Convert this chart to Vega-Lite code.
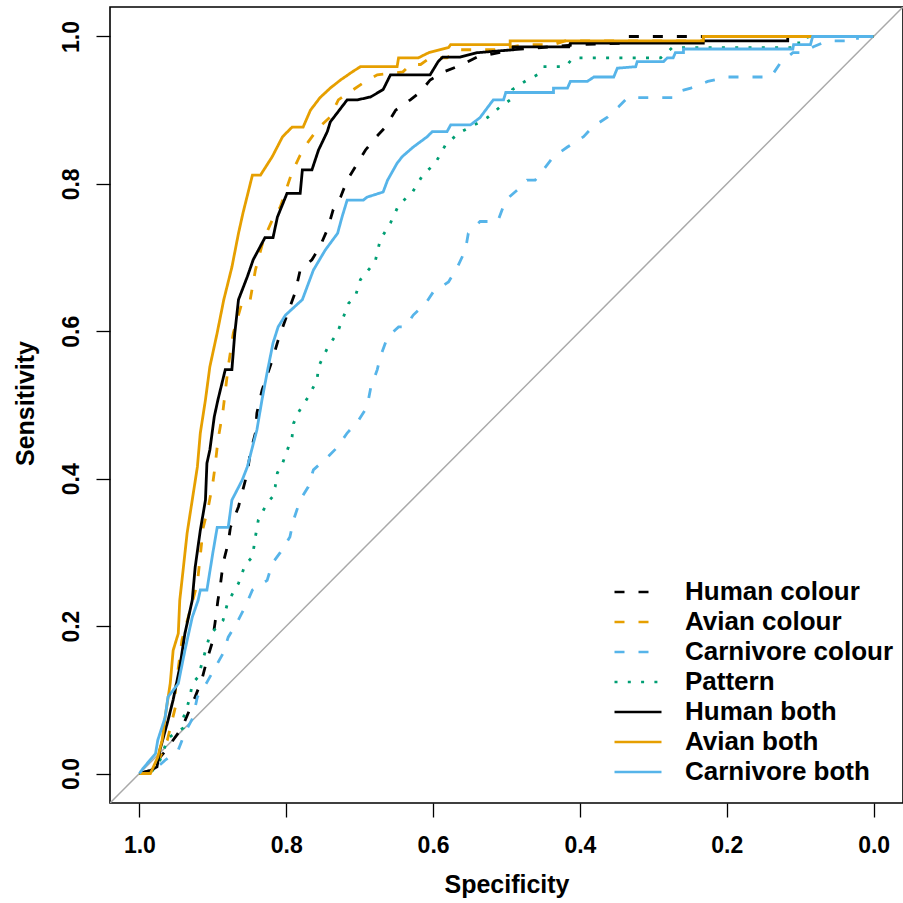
{
  "$schema": "https://vega.github.io/schema/vega-lite/v6.json",
  "width": 793,
  "height": 796,
  "autosize": {"type": "none"},
  "padding": {"left": 110, "top": 7, "right": 0, "bottom": 100},
  "background": "white",
  "config": {
    "view": {"stroke": "#000000", "strokeWidth": 1.6},
    "font": "Liberation Sans",
    "axis": {"grid": false, "domain": false, "tickColor": "black", "tickSize": 14, "tickWidth": 1.3,
             "labelFont": "Liberation Sans", "labelFontSize": 23, "labelFontWeight": "bold", "labelColor": "black",
             "titleFont": "Liberation Sans", "titleFontSize": 25, "titleFontWeight": "bold", "titleColor": "black"}
  },
  "datasets": {
    "diag": [{"spec": 1.04, "sens": -0.04}, {"spec": -0.04, "sens": 1.04}],
    "roc": [
      {"series":"Human colour","spec":1,"sens":0},{"series":"Human colour","spec":0.985,"sens":0.004},{"series":"Human colour","spec":0.972,"sens":0.022},{"series":"Human colour","spec":0.965,"sens":0.03},{"series":"Human colour","spec":0.942,"sens":0.062},{"series":"Human colour","spec":0.924,"sens":0.104},{"series":"Human colour","spec":0.915,"sens":0.127},{"series":"Human colour","spec":0.908,"sens":0.154},{"series":"Human colour","spec":0.901,"sens":0.177},{"series":"Human colour","spec":0.897,"sens":0.204},{"series":"Human colour","spec":0.893,"sens":0.235},{"series":"Human colour","spec":0.89,"sens":0.253},{"series":"Human colour","spec":0.886,"sens":0.285},{"series":"Human colour","spec":0.879,"sens":0.313},{"series":"Human colour","spec":0.876,"sens":0.334},{"series":"Human colour","spec":0.865,"sens":0.362},{"series":"Human colour","spec":0.859,"sens":0.385},{"series":"Human colour","spec":0.853,"sens":0.408},{"series":"Human colour","spec":0.849,"sens":0.435},{"series":"Human colour","spec":0.842,"sens":0.462},{"series":"Human colour","spec":0.84,"sens":0.489},{"series":"Human colour","spec":0.833,"sens":0.52},{"series":"Human colour","spec":0.819,"sens":0.561},{"series":"Human colour","spec":0.811,"sens":0.588},{"series":"Human colour","spec":0.795,"sens":0.633},{"series":"Human colour","spec":0.788,"sens":0.652},{"series":"Human colour","spec":0.781,"sens":0.683},{"series":"Human colour","spec":0.765,"sens":0.697},{"series":"Human colour","spec":0.754,"sens":0.715},{"series":"Human colour","spec":0.744,"sens":0.738},{"series":"Human colour","spec":0.736,"sens":0.765},{"series":"Human colour","spec":0.726,"sens":0.782},{"series":"Human colour","spec":0.717,"sens":0.805},{"series":"Human colour","spec":0.706,"sens":0.823},{"series":"Human colour","spec":0.692,"sens":0.846},{"series":"Human colour","spec":0.679,"sens":0.862},{"series":"Human colour","spec":0.665,"sens":0.877},{"series":"Human colour","spec":0.651,"sens":0.9},{"series":"Human colour","spec":0.631,"sens":0.914},{"series":"Human colour","spec":0.617,"sens":0.925},{"series":"Human colour","spec":0.604,"sens":0.941},{"series":"Human colour","spec":0.583,"sens":0.953},{"series":"Human colour","spec":0.56,"sens":0.962},{"series":"Human colour","spec":0.54,"sens":0.972},{"series":"Human colour","spec":0.491,"sens":0.982},{"series":"Human colour","spec":0.403,"sens":0.989},{"series":"Human colour","spec":0.341,"sens":0.991},{"series":"Human colour","spec":0.338,"sens":1},{"series":"Human colour","spec":0,"sens":1},

      {"series":"Avian colour","spec":1,"sens":0},{"series":"Avian colour","spec":0.985,"sens":0},{"series":"Avian colour","spec":0.972,"sens":0.022},{"series":"Avian colour","spec":0.962,"sens":0.045},{"series":"Avian colour","spec":0.951,"sens":0.09},{"series":"Avian colour","spec":0.951,"sens":0.113},{"series":"Avian colour","spec":0.942,"sens":0.181},{"series":"Avian colour","spec":0.921,"sens":0.258},{"series":"Avian colour","spec":0.913,"sens":0.334},{"series":"Avian colour","spec":0.906,"sens":0.362},{"series":"Avian colour","spec":0.9,"sens":0.394},{"series":"Avian colour","spec":0.897,"sens":0.416},{"series":"Avian colour","spec":0.893,"sens":0.452},{"series":"Avian colour","spec":0.886,"sens":0.493},{"series":"Avian colour","spec":0.879,"sens":0.552},{"series":"Avian colour","spec":0.872,"sens":0.598},{"series":"Avian colour","spec":0.859,"sens":0.643},{"series":"Avian colour","spec":0.849,"sens":0.643},{"series":"Avian colour","spec":0.842,"sens":0.683},{"series":"Avian colour","spec":0.831,"sens":0.724},{"series":"Avian colour","spec":0.819,"sens":0.751},{"series":"Avian colour","spec":0.808,"sens":0.769},{"series":"Avian colour","spec":0.792,"sens":0.816},{"series":"Avian colour","spec":0.781,"sens":0.839},{"series":"Avian colour","spec":0.77,"sens":0.857},{"series":"Avian colour","spec":0.756,"sens":0.876},{"series":"Avian colour","spec":0.74,"sens":0.891},{"series":"Avian colour","spec":0.729,"sens":0.914},{"series":"Avian colour","spec":0.713,"sens":0.925},{"series":"Avian colour","spec":0.692,"sens":0.939},{"series":"Avian colour","spec":0.676,"sens":0.948},{"series":"Avian colour","spec":0.641,"sens":0.952},{"series":"Avian colour","spec":0.631,"sens":0.962},{"series":"Avian colour","spec":0.617,"sens":0.962},{"series":"Avian colour","spec":0.604,"sens":0.971},{"series":"Avian colour","spec":0.581,"sens":0.971},{"series":"Avian colour","spec":0.567,"sens":0.982},{"series":"Avian colour","spec":0.512,"sens":0.982},{"series":"Avian colour","spec":0.477,"sens":0.989},{"series":"Avian colour","spec":0.436,"sens":0.989},{"series":"Avian colour","spec":0.42,"sens":0.994},{"series":"Avian colour","spec":0.232,"sens":0.994},{"series":"Avian colour","spec":0.232,"sens":1},{"series":"Avian colour","spec":0,"sens":1},

      {"series":"Carnivore colour","spec":1,"sens":0},{"series":"Carnivore colour","spec":0.985,"sens":0},{"series":"Carnivore colour","spec":0.965,"sens":0.018},{"series":"Carnivore colour","spec":0.947,"sens":0.032},{"series":"Carnivore colour","spec":0.938,"sens":0.055},{"series":"Carnivore colour","spec":0.927,"sens":0.076},{"series":"Carnivore colour","spec":0.921,"sens":0.104},{"series":"Carnivore colour","spec":0.909,"sens":0.122},{"series":"Carnivore colour","spec":0.886,"sens":0.163},{"series":"Carnivore colour","spec":0.879,"sens":0.185},{"series":"Carnivore colour","spec":0.867,"sens":0.205},{"series":"Carnivore colour","spec":0.856,"sens":0.226},{"series":"Carnivore colour","spec":0.846,"sens":0.249},{"series":"Carnivore colour","spec":0.826,"sens":0.262},{"series":"Carnivore colour","spec":0.819,"sens":0.285},{"series":"Carnivore colour","spec":0.808,"sens":0.3},{"series":"Carnivore colour","spec":0.795,"sens":0.321},{"series":"Carnivore colour","spec":0.79,"sens":0.344},{"series":"Carnivore colour","spec":0.781,"sens":0.371},{"series":"Carnivore colour","spec":0.77,"sens":0.389},{"series":"Carnivore colour","spec":0.763,"sens":0.412},{"series":"Carnivore colour","spec":0.744,"sens":0.429},{"series":"Carnivore colour","spec":0.73,"sens":0.443},{"series":"Carnivore colour","spec":0.717,"sens":0.462},{"series":"Carnivore colour","spec":0.703,"sens":0.477},{"series":"Carnivore colour","spec":0.69,"sens":0.497},{"series":"Carnivore colour","spec":0.685,"sens":0.523},{"series":"Carnivore colour","spec":0.676,"sens":0.548},{"series":"Carnivore colour","spec":0.672,"sens":0.565},{"series":"Carnivore colour","spec":0.662,"sens":0.592},{"series":"Carnivore colour","spec":0.647,"sens":0.606},{"series":"Carnivore colour","spec":0.638,"sens":0.606},{"series":"Carnivore colour","spec":0.627,"sens":0.622},{"series":"Carnivore colour","spec":0.61,"sens":0.638},{"series":"Carnivore colour","spec":0.6,"sens":0.653},{"series":"Carnivore colour","spec":0.579,"sens":0.667},{"series":"Carnivore colour","spec":0.567,"sens":0.687},{"series":"Carnivore colour","spec":0.556,"sens":0.71},{"series":"Carnivore colour","spec":0.552,"sens":0.733},{"series":"Carnivore colour","spec":0.536,"sens":0.749},{"series":"Carnivore colour","spec":0.512,"sens":0.749},{"series":"Carnivore colour","spec":0.501,"sens":0.778},{"series":"Carnivore colour","spec":0.485,"sens":0.792},{"series":"Carnivore colour","spec":0.472,"sens":0.805},{"series":"Carnivore colour","spec":0.461,"sens":0.805},{"series":"Carnivore colour","spec":0.45,"sens":0.819},{"series":"Carnivore colour","spec":0.436,"sens":0.837},{"series":"Carnivore colour","spec":0.417,"sens":0.85},{"series":"Carnivore colour","spec":0.395,"sens":0.864},{"series":"Carnivore colour","spec":0.383,"sens":0.877},{"series":"Carnivore colour","spec":0.362,"sens":0.891},{"series":"Carnivore colour","spec":0.347,"sens":0.905},{"series":"Carnivore colour","spec":0.335,"sens":0.917},{"series":"Carnivore colour","spec":0.273,"sens":0.917},{"series":"Carnivore colour","spec":0.27,"sens":0.924},{"series":"Carnivore colour","spec":0.249,"sens":0.93},{"series":"Carnivore colour","spec":0.226,"sens":0.939},{"series":"Carnivore colour","spec":0.199,"sens":0.945},{"series":"Carnivore colour","spec":0.14,"sens":0.945},{"series":"Carnivore colour","spec":0.127,"sens":0.964},{"series":"Carnivore colour","spec":0.11,"sens":0.978},{"series":"Carnivore colour","spec":0.097,"sens":0.978},{"series":"Carnivore colour","spec":0.082,"sens":0.986},{"series":"Carnivore colour","spec":0.063,"sens":0.994},{"series":"Carnivore colour","spec":0.022,"sens":0.994},{"series":"Carnivore colour","spec":0.022,"sens":1},{"series":"Carnivore colour","spec":0,"sens":1},

      {"series":"Pattern","spec":1,"sens":0},{"series":"Pattern","spec":0.985,"sens":0},{"series":"Pattern","spec":0.972,"sens":0.018},{"series":"Pattern","spec":0.961,"sens":0.048},{"series":"Pattern","spec":0.94,"sens":0.062},{"series":"Pattern","spec":0.94,"sens":0.076},{"series":"Pattern","spec":0.935,"sens":0.09},{"series":"Pattern","spec":0.931,"sens":0.104},{"series":"Pattern","spec":0.928,"sens":0.122},{"series":"Pattern","spec":0.92,"sens":0.131},{"series":"Pattern","spec":0.904,"sens":0.188},{"series":"Pattern","spec":0.886,"sens":0.208},{"series":"Pattern","spec":0.88,"sens":0.231},{"series":"Pattern","spec":0.872,"sens":0.246},{"series":"Pattern","spec":0.865,"sens":0.258},{"series":"Pattern","spec":0.856,"sens":0.283},{"series":"Pattern","spec":0.846,"sens":0.294},{"series":"Pattern","spec":0.842,"sens":0.321},{"series":"Pattern","spec":0.838,"sens":0.344},{"series":"Pattern","spec":0.826,"sens":0.367},{"series":"Pattern","spec":0.819,"sens":0.375},{"series":"Pattern","spec":0.815,"sens":0.389},{"series":"Pattern","spec":0.812,"sens":0.408},{"series":"Pattern","spec":0.805,"sens":0.421},{"series":"Pattern","spec":0.797,"sens":0.443},{"series":"Pattern","spec":0.792,"sens":0.457},{"series":"Pattern","spec":0.79,"sens":0.475},{"series":"Pattern","spec":0.784,"sens":0.489},{"series":"Pattern","spec":0.77,"sens":0.511},{"series":"Pattern","spec":0.758,"sens":0.534},{"series":"Pattern","spec":0.756,"sens":0.552},{"series":"Pattern","spec":0.744,"sens":0.577},{"series":"Pattern","spec":0.73,"sens":0.599},{"series":"Pattern","spec":0.715,"sens":0.638},{"series":"Pattern","spec":0.706,"sens":0.647},{"series":"Pattern","spec":0.699,"sens":0.67},{"series":"Pattern","spec":0.679,"sens":0.694},{"series":"Pattern","spec":0.672,"sens":0.724},{"series":"Pattern","spec":0.658,"sens":0.747},{"series":"Pattern","spec":0.647,"sens":0.771},{"series":"Pattern","spec":0.628,"sens":0.789},{"series":"Pattern","spec":0.614,"sens":0.812},{"series":"Pattern","spec":0.597,"sens":0.828},{"series":"Pattern","spec":0.583,"sens":0.853},{"series":"Pattern","spec":0.565,"sens":0.869},{"series":"Pattern","spec":0.538,"sens":0.883},{"series":"Pattern","spec":0.526,"sens":0.89},{"series":"Pattern","spec":0.508,"sens":0.905},{"series":"Pattern","spec":0.495,"sens":0.914},{"series":"Pattern","spec":0.492,"sens":0.928},{"series":"Pattern","spec":0.472,"sens":0.941},{"series":"Pattern","spec":0.458,"sens":0.948},{"series":"Pattern","spec":0.45,"sens":0.959},{"series":"Pattern","spec":0.42,"sens":0.959},{"series":"Pattern","spec":0.409,"sens":0.971},{"series":"Pattern","spec":0.29,"sens":0.971},{"series":"Pattern","spec":0.274,"sens":0.985},{"series":"Pattern","spec":0.102,"sens":0.985},{"series":"Pattern","spec":0.102,"sens":0.996},{"series":"Pattern","spec":0.086,"sens":1},{"series":"Pattern","spec":0,"sens":1},

      {"series":"Human both","spec":1,"sens":0},{"series":"Human both","spec":0.985,"sens":0.004},{"series":"Human both","spec":0.976,"sens":0.009},{"series":"Human both","spec":0.972,"sens":0.032},{"series":"Human both","spec":0.961,"sens":0.072},{"series":"Human both","spec":0.954,"sens":0.1},{"series":"Human both","spec":0.945,"sens":0.144},{"series":"Human both","spec":0.938,"sens":0.19},{"series":"Human both","spec":0.928,"sens":0.235},{"series":"Human both","spec":0.924,"sens":0.28},{"series":"Human both","spec":0.917,"sens":0.33},{"series":"Human both","spec":0.91,"sens":0.371},{"series":"Human both","spec":0.908,"sens":0.421},{"series":"Human both","spec":0.904,"sens":0.439},{"series":"Human both","spec":0.898,"sens":0.484},{"series":"Human both","spec":0.893,"sens":0.507},{"series":"Human both","spec":0.883,"sens":0.548},{"series":"Human both","spec":0.874,"sens":0.548},{"series":"Human both","spec":0.87,"sens":0.598},{"series":"Human both","spec":0.865,"sens":0.643},{"series":"Human both","spec":0.853,"sens":0.674},{"series":"Human both","spec":0.845,"sens":0.697},{"series":"Human both","spec":0.829,"sens":0.727},{"series":"Human both","spec":0.818,"sens":0.727},{"series":"Human both","spec":0.812,"sens":0.755},{"series":"Human both","spec":0.799,"sens":0.787},{"series":"Human both","spec":0.781,"sens":0.787},{"series":"Human both","spec":0.778,"sens":0.819},{"series":"Human both","spec":0.765,"sens":0.819},{"series":"Human both","spec":0.756,"sens":0.846},{"series":"Human both","spec":0.744,"sens":0.871},{"series":"Human both","spec":0.74,"sens":0.884},{"series":"Human both","spec":0.717,"sens":0.914},{"series":"Human both","spec":0.703,"sens":0.914},{"series":"Human both","spec":0.685,"sens":0.918},{"series":"Human both","spec":0.668,"sens":0.928},{"series":"Human both","spec":0.658,"sens":0.948},{"series":"Human both","spec":0.604,"sens":0.948},{"series":"Human both","spec":0.593,"sens":0.966},{"series":"Human both","spec":0.587,"sens":0.972},{"series":"Human both","spec":0.563,"sens":0.972},{"series":"Human both","spec":0.54,"sens":0.978},{"series":"Human both","spec":0.491,"sens":0.982},{"series":"Human both","spec":0.491,"sens":0.986},{"series":"Human both","spec":0.415,"sens":0.986},{"series":"Human both","spec":0.413,"sens":0.991},{"series":"Human both","spec":0.232,"sens":0.991},{"series":"Human both","spec":0.232,"sens":0.994},{"series":"Human both","spec":0.117,"sens":0.994},{"series":"Human both","spec":0.117,"sens":1},{"series":"Human both","spec":0,"sens":1},

      {"series":"Avian both","spec":1,"sens":0},{"series":"Avian both","spec":0.985,"sens":0},{"series":"Avian both","spec":0.975,"sens":0.022},{"series":"Avian both","spec":0.969,"sens":0.045},{"series":"Avian both","spec":0.965,"sens":0.076},{"series":"Avian both","spec":0.958,"sens":0.122},{"series":"Avian both","spec":0.954,"sens":0.167},{"series":"Avian both","spec":0.947,"sens":0.19},{"series":"Avian both","spec":0.945,"sens":0.235},{"series":"Avian both","spec":0.94,"sens":0.28},{"series":"Avian both","spec":0.935,"sens":0.326},{"series":"Avian both","spec":0.928,"sens":0.371},{"series":"Avian both","spec":0.921,"sens":0.416},{"series":"Avian both","spec":0.917,"sens":0.462},{"series":"Avian both","spec":0.91,"sens":0.507},{"series":"Avian both","spec":0.904,"sens":0.552},{"series":"Avian both","spec":0.894,"sens":0.598},{"series":"Avian both","spec":0.885,"sens":0.643},{"series":"Avian both","spec":0.874,"sens":0.687},{"series":"Avian both","spec":0.865,"sens":0.733},{"series":"Avian both","spec":0.859,"sens":0.76},{"series":"Avian both","spec":0.846,"sens":0.812},{"series":"Avian both","spec":0.835,"sens":0.812},{"series":"Avian both","spec":0.819,"sens":0.837},{"series":"Avian both","spec":0.805,"sens":0.864},{"series":"Avian both","spec":0.792,"sens":0.877},{"series":"Avian both","spec":0.777,"sens":0.877},{"series":"Avian both","spec":0.767,"sens":0.9},{"series":"Avian both","spec":0.754,"sens":0.917},{"series":"Avian both","spec":0.74,"sens":0.93},{"series":"Avian both","spec":0.726,"sens":0.941},{"series":"Avian both","spec":0.71,"sens":0.952},{"series":"Avian both","spec":0.699,"sens":0.959},{"series":"Avian both","spec":0.649,"sens":0.959},{"series":"Avian both","spec":0.647,"sens":0.971},{"series":"Avian both","spec":0.62,"sens":0.971},{"series":"Avian both","spec":0.606,"sens":0.978},{"series":"Avian both","spec":0.579,"sens":0.985},{"series":"Avian both","spec":0.576,"sens":0.989},{"series":"Avian both","spec":0.495,"sens":0.989},{"series":"Avian both","spec":0.495,"sens":0.994},{"series":"Avian both","spec":0.232,"sens":0.994},{"series":"Avian both","spec":0.232,"sens":1},{"series":"Avian both","spec":0,"sens":1},

      {"series":"Carnivore both","spec":1,"sens":0},{"series":"Carnivore both","spec":0.995,"sens":0.007},{"series":"Carnivore both","spec":0.978,"sens":0.027},{"series":"Carnivore both","spec":0.975,"sens":0.045},{"series":"Carnivore both","spec":0.965,"sens":0.076},{"series":"Carnivore both","spec":0.961,"sens":0.104},{"series":"Carnivore both","spec":0.947,"sens":0.122},{"series":"Carnivore both","spec":0.938,"sens":0.167},{"series":"Carnivore both","spec":0.928,"sens":0.212},{"series":"Carnivore both","spec":0.92,"sens":0.235},{"series":"Carnivore both","spec":0.917,"sens":0.249},{"series":"Carnivore both","spec":0.908,"sens":0.249},{"series":"Carnivore both","spec":0.9,"sens":0.299},{"series":"Carnivore both","spec":0.894,"sens":0.334},{"series":"Carnivore both","spec":0.879,"sens":0.334},{"series":"Carnivore both","spec":0.874,"sens":0.371},{"series":"Carnivore both","spec":0.86,"sens":0.398},{"series":"Carnivore both","spec":0.853,"sens":0.416},{"series":"Carnivore both","spec":0.846,"sens":0.443},{"series":"Carnivore both","spec":0.84,"sens":0.466},{"series":"Carnivore both","spec":0.833,"sens":0.507},{"series":"Carnivore both","spec":0.826,"sens":0.544},{"series":"Carnivore both","spec":0.818,"sens":0.584},{"series":"Carnivore both","spec":0.811,"sens":0.606},{"series":"Carnivore both","spec":0.801,"sens":0.622},{"series":"Carnivore both","spec":0.778,"sens":0.643},{"series":"Carnivore both","spec":0.763,"sens":0.683},{"series":"Carnivore both","spec":0.747,"sens":0.71},{"series":"Carnivore both","spec":0.73,"sens":0.733},{"series":"Carnivore both","spec":0.724,"sens":0.755},{"series":"Carnivore both","spec":0.717,"sens":0.778},{"series":"Carnivore both","spec":0.695,"sens":0.778},{"series":"Carnivore both","spec":0.69,"sens":0.782},{"series":"Carnivore both","spec":0.668,"sens":0.789},{"series":"Carnivore both","spec":0.662,"sens":0.805},{"series":"Carnivore both","spec":0.649,"sens":0.828},{"series":"Carnivore both","spec":0.642,"sens":0.837},{"series":"Carnivore both","spec":0.627,"sens":0.85},{"series":"Carnivore both","spec":0.608,"sens":0.864},{"series":"Carnivore both","spec":0.601,"sens":0.871},{"series":"Carnivore both","spec":0.581,"sens":0.871},{"series":"Carnivore both","spec":0.576,"sens":0.88},{"series":"Carnivore both","spec":0.549,"sens":0.88},{"series":"Carnivore both","spec":0.536,"sens":0.89},{"series":"Carnivore both","spec":0.518,"sens":0.914},{"series":"Carnivore both","spec":0.504,"sens":0.914},{"series":"Carnivore both","spec":0.501,"sens":0.924},{"series":"Carnivore both","spec":0.436,"sens":0.924},{"series":"Carnivore both","spec":0.436,"sens":0.93},{"series":"Carnivore both","spec":0.417,"sens":0.93},{"series":"Carnivore both","spec":0.413,"sens":0.939},{"series":"Carnivore both","spec":0.39,"sens":0.939},{"series":"Carnivore both","spec":0.381,"sens":0.945},{"series":"Carnivore both","spec":0.354,"sens":0.945},{"series":"Carnivore both","spec":0.349,"sens":0.957},{"series":"Carnivore both","spec":0.324,"sens":0.959},{"series":"Carnivore both","spec":0.322,"sens":0.966},{"series":"Carnivore both","spec":0.286,"sens":0.966},{"series":"Carnivore both","spec":0.281,"sens":0.971},{"series":"Carnivore both","spec":0.273,"sens":0.971},{"series":"Carnivore both","spec":0.27,"sens":0.978},{"series":"Carnivore both","spec":0.259,"sens":0.978},{"series":"Carnivore both","spec":0.259,"sens":0.983},{"series":"Carnivore both","spec":0.11,"sens":0.983},{"series":"Carnivore both","spec":0.109,"sens":0.989},{"series":"Carnivore both","spec":0.086,"sens":0.989},{"series":"Carnivore both","spec":0.083,"sens":1},{"series":"Carnivore both","spec":0,"sens":1}
    ]
  },
  "layer": [
    {
      "data": {"name": "diag"},
      "mark": {"type": "line", "color": "#A9A9A9", "strokeWidth": 1.5, "clip": true},
      "encoding": {
        "x": {"field": "spec", "type": "quantitative", "scale": {"domain": [-0.04, 1.04], "reverse": true, "nice": false, "zero": false}},
        "y": {"field": "sens", "type": "quantitative", "scale": {"domain": [-0.04, 1.04], "nice": false, "zero": false}},
        "order": {"value": null}
      }
    },
    {
      "data": {"name": "roc"},
      "mark": {"type": "line", "strokeWidth": 2.8, "clip": true, "strokeCap": "butt"},
      "encoding": {
        "x": {"field": "spec", "type": "quantitative", "title": "Specificity",
              "axis": {"values": [0, 0.2, 0.4, 0.6, 0.8, 1], "format": ".1f", "labelPadding": 17, "titleBaseline": "alphabetic", "titleY": 89}},
        "y": {"field": "sens", "type": "quantitative", "title": "Sensitivity",
              "axis": {"values": [0, 0.2, 0.4, 0.6, 0.8, 1], "format": ".1f", "labelAngle": -90, "labelAlign": "center", "labelBaseline": "bottom", "labelPadding": 13,
                       "titleAngle": -90, "titleBaseline": "alphabetic", "titleAlign": "center", "titleX": -77, "titleY": 396}},
        "order": {"value": null},
        "color": {"field": "series", "type": "nominal",
                  "scale": {"domain": ["Human colour", "Avian colour", "Carnivore colour", "Pattern", "Human both", "Avian both", "Carnivore both"],
                            "range": ["#000000", "#E69F00", "#56B4E9", "#009E73", "#000000", "#E69F00", "#56B4E9"]},
                  "legend": {"title": null, "orient": "none", "legendX": 503, "legendY": 570, "padding": 0,
                             "symbolType": "stroke", "symbolSize": 2209, "symbolStrokeWidth": 2.5,
                             "labelFont": "Liberation Sans", "labelFontSize": 26, "labelFontWeight": "bold", "labelColor": "black",
                             "labelOffset": 22, "clipHeight": 30, "rowPadding": 0, "labelLimit": 400}},
        "strokeDash": {"field": "series", "type": "nominal",
                       "scale": {"domain": ["Human colour", "Avian colour", "Carnivore colour", "Pattern", "Human both", "Avian both", "Carnivore both"],
                                 "range": [[10, 14], [10, 14], [10, 14], [3, 10.3], [1, 0], [1, 0], [1, 0]]},
                       "legend": {"title": null, "orient": "none", "legendX": 503, "legendY": 570, "padding": 0,
                                  "symbolType": "stroke", "symbolSize": 2209, "symbolStrokeWidth": 2.5,
                                  "labelFont": "Liberation Sans", "labelFontSize": 26, "labelFontWeight": "bold", "labelColor": "black",
                                  "labelOffset": 22, "clipHeight": 30, "rowPadding": 0, "labelLimit": 400}}
      }
    }
  ]
}
